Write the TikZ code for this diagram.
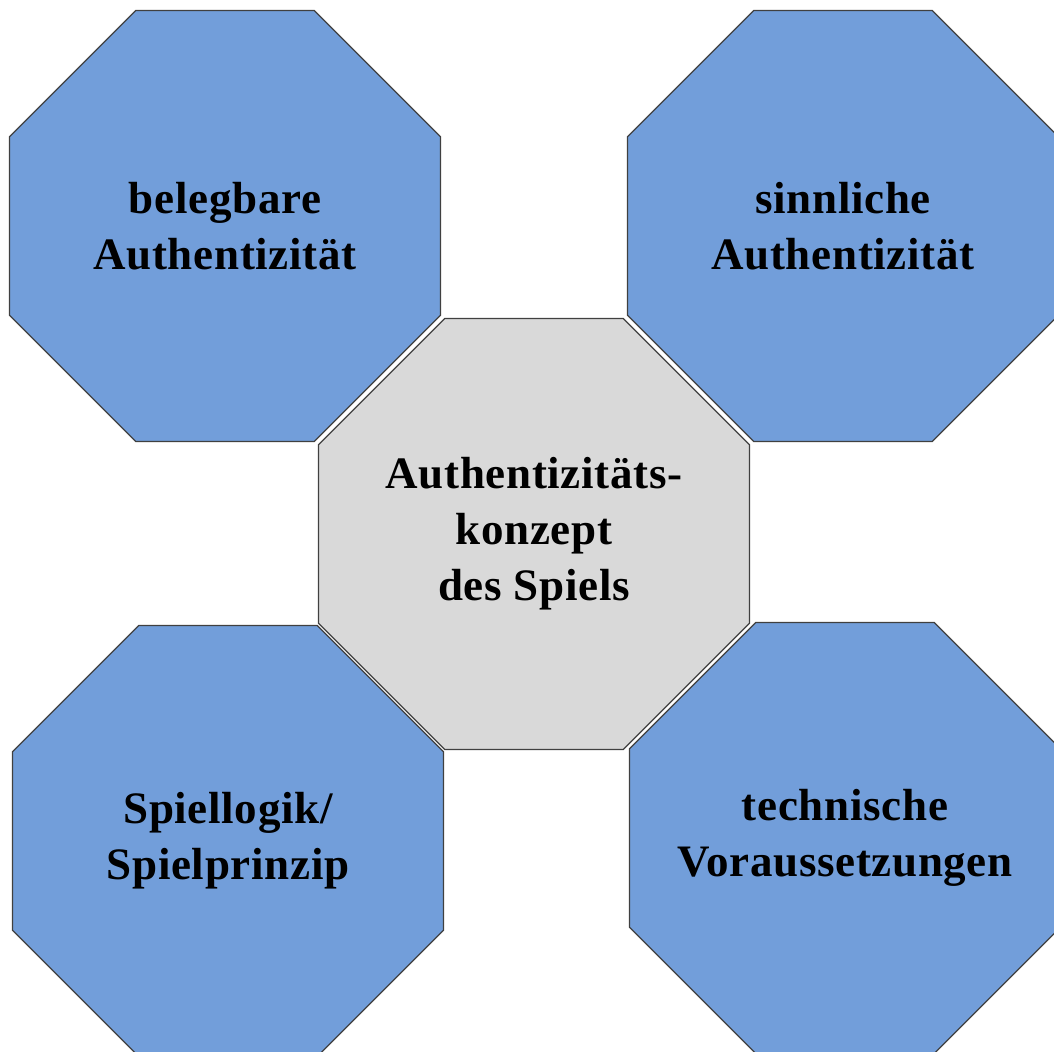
\documentclass[tikz,border=0pt]{standalone}
\usepackage{fontspec}
\setmainfont{Liberation Serif}
\newfontfamily\octfont{Liberation Serif}[LetterSpace=1.5]
\usetikzlibrary{shapes.geometric}
\definecolor{octblue}{RGB}{114,158,218}
\definecolor{octgray}{RGB}{217,217,217}
\definecolor{octline}{RGB}{64,64,64}
\begin{document}
\begin{tikzpicture}[x=0.5pt,y=-0.5pt,
  octagon/.style={regular polygon, regular polygon sides=8,
    minimum size=233.3pt, inner sep=0pt, draw=octline, line width=0.6pt},
  octtext/.style={align=center, inner sep=0pt,
    font=\octfont\bfseries\fontsize{22.5}{28}\selectfont},
  aspect/.style={octagon, fill=octblue},
  core/.style={octagon, fill=octgray}]
\useasboundingbox (0,0) rectangle (1054,1052);
\clip (0,0) rectangle (1054,1052);
% four aspects around the concept
\node[aspect, label={[octtext]center:belegbare\\Authentizität}] (beleg) at (225,226) {};
\node[aspect, label={[octtext]center:sinnliche\\Authentizität}] (sinn) at (843,226) {};
\node[aspect, label={[octtext]center:Spiellogik/\\Spielprinzip}] (logik) at (228,841) {};
\node[aspect, label={[octtext]center:technische\\Voraussetzungen}] (technik) at (845,838) {};
% central concept
\node[core, label={[octtext]center:Authentizitäts-\\konzept\\des Spiels}] (konzept) at (534,534) {};
\end{tikzpicture}
\end{document}
